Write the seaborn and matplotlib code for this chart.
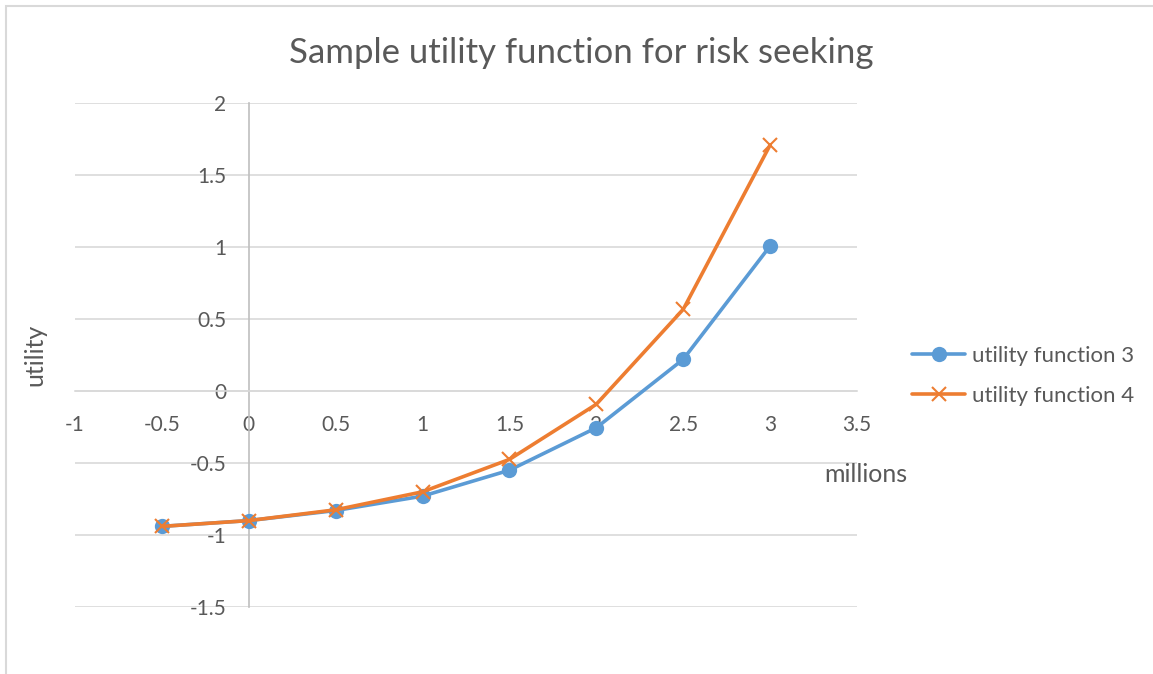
import matplotlib
matplotlib.use("Agg")
import matplotlib.pyplot as plt
from matplotlib.patches import Rectangle
import seaborn as sns
import pandas as pd

# ---- data ----
x_values = [-0.5, 0, 0.5, 1, 1.5, 2, 2.5, 3]
utility3 = [-0.94, -0.90, -0.83, -0.73, -0.55, -0.255, 0.22, 1.007]
utility4 = [-0.94, -0.90, -0.825, -0.70, -0.475, -0.092, 0.567, 1.708]
series_names = ["utility function 3", "utility function 4"]
x_ticks = [-1, -0.5, 0, 0.5, 1, 1.5, 2, 2.5, 3, 3.5]
x_tick_labels = ["-1", "-0.5", "0", "0.5", "1", "1.5", "2", "2.5", "3", "3.5"]
y_ticks = [-1.5, -1, -0.5, 0, 0.5, 1, 1.5, 2]
y_tick_labels = ["-1.5", "-1", "-0.5", "0", "0.5", "1", "1.5", "2"]
title = "Sample utility function for risk seeking"
x_label = "millions"
y_label = "utility"

df = pd.DataFrame({
    "x": x_values * 2,
    "y": utility3 + utility4,
    "series": [series_names[0]] * len(x_values) + [series_names[1]] * len(x_values),
})

sns.set_theme(style="white")
plt.rcParams["font.family"] = ["Lato", "DejaVu Sans"]

W, H = 1153, 674
fig = plt.figure(figsize=(W / 100, H / 100), dpi=100)
fig.patch.set_facecolor("white")

# chart border
fig.add_artist(Rectangle((5.5 / W, -0.05), 1.1, 1 - 5.5 / H + 0.05,
                         transform=fig.transFigure, fill=False,
                         edgecolor="#d9d9d9", linewidth=1.5))

ax = fig.add_axes([75 / W, 1 - 607 / H, 782 / W, 504 / H])

blue = "#5B9BD5"
orange = "#ED7D31"
grey_txt = "#595959"

sub3 = df[df["series"] == series_names[0]]
sub4 = df[df["series"] == series_names[1]]
sns.lineplot(data=sub3, x="x", y="y", ax=ax, color=blue, linewidth=2.6,
             marker="o", markersize=11, markeredgecolor=blue,
             markerfacecolor=blue, markeredgewidth=0, label=series_names[0],
             zorder=3)
sns.lineplot(data=sub4, x="x", y="y", ax=ax, color=orange, linewidth=2.6,
             marker="x", markersize=10, markeredgecolor=orange,
             markeredgewidth=1.5, label=series_names[1], zorder=4)

ax.set_xlim(-1, 3.5)
ax.set_ylim(-1.5, 2)
ax.set_xticks(x_ticks, labels=x_tick_labels)
ax.set_yticks(y_ticks, labels=y_tick_labels)
ax.set_xlabel("")
ax.set_ylabel("")

ax.yaxis.grid(True, color="#d9d9d9", linewidth=1.2)
ax.xaxis.grid(False)
ax.set_axisbelow(True)

for s in ["top", "right"]:
    ax.spines[s].set_visible(False)
ax.spines["left"].set_position(("data", 0))
ax.spines["bottom"].set_position(("data", 0))
ax.spines["left"].set_color("#bfbfbf")
ax.spines["bottom"].set_color("#d9d9d9")
ax.spines["left"].set_linewidth(1.2)
ax.spines["bottom"].set_linewidth(1.2)

ax.tick_params(axis="both", length=0, labelsize=15, labelcolor=grey_txt)
ax.tick_params(axis="y", pad=16)
ax.tick_params(axis="x", pad=17)

leg = ax.legend(loc="center left", bbox_to_anchor=(912 / W, 1 - 376 / H),
                bbox_transform=fig.transFigure, frameon=False, fontsize=16,
                handlelength=2.4, handletextpad=0.3, labelspacing=0.9,
                borderpad=0, borderaxespad=0)
for t in leg.get_texts():
    t.set_color(grey_txt)

fig.text(581 / W, 1 - 53 / H, title, ha="center", va="center",
         fontsize=25, color=grey_txt)
fig.text(866 / W, 1 - 475 / H, x_label, ha="center", va="center",
         fontsize=18, color=grey_txt)
fig.text(35 / W, 1 - 355 / H, y_label, ha="center", va="center",
         rotation=90, fontsize=18, color=grey_txt)

fig.savefig("out.png", dpi=100, facecolor="white")
